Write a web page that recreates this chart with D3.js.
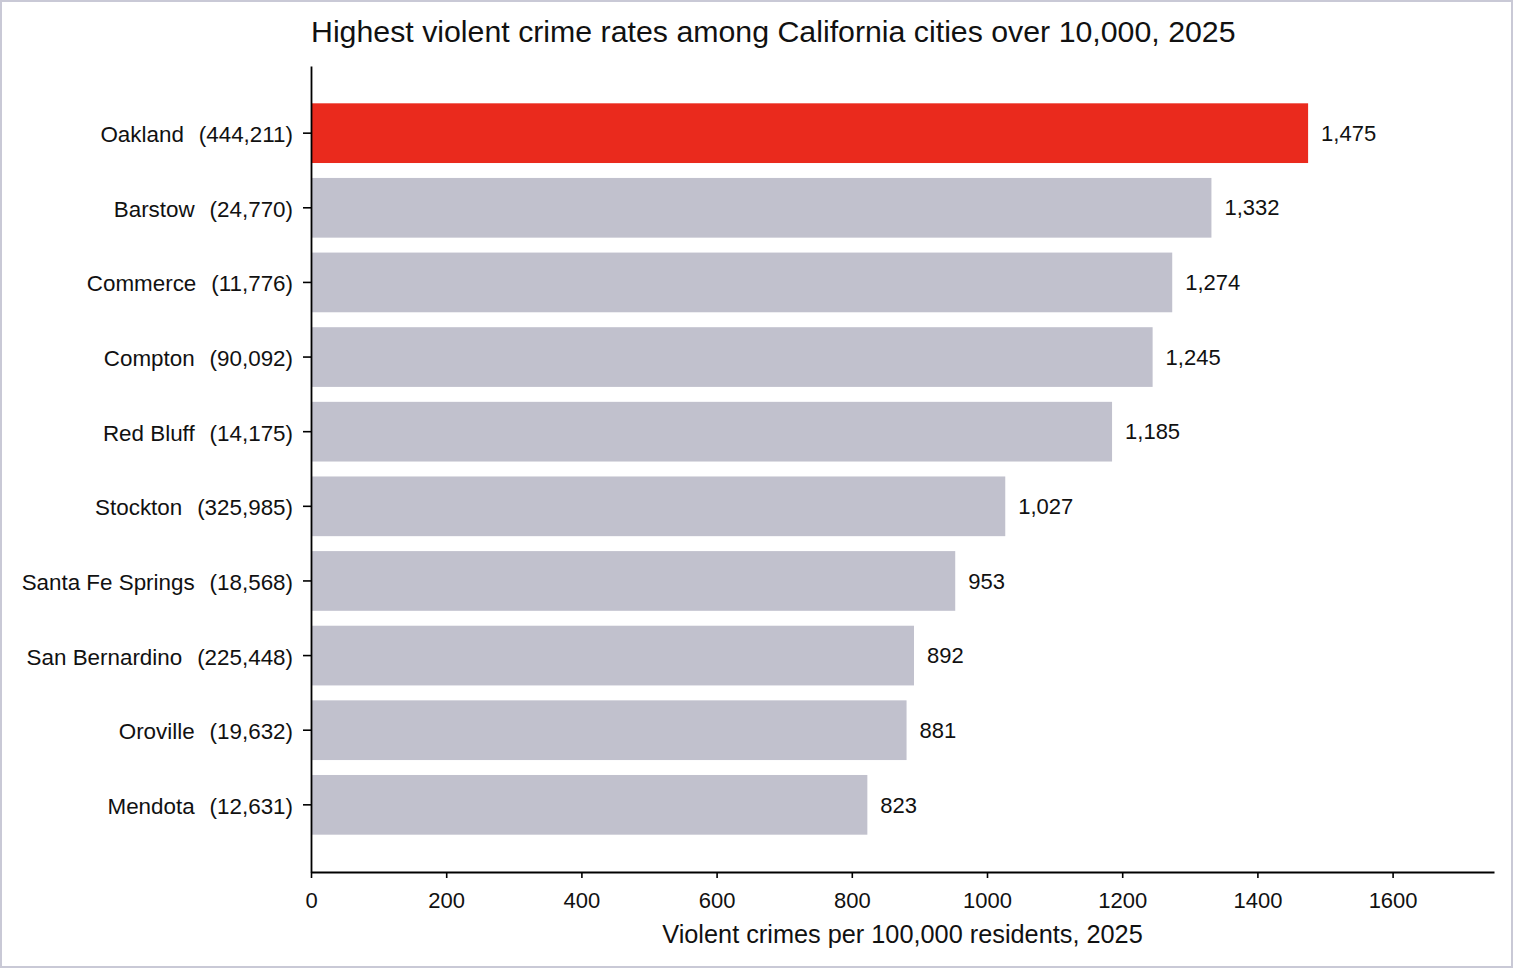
<!DOCTYPE html>
<html>
<head>
<meta charset="utf-8">
<script src="https://cdn.jsdelivr.net/npm/d3@7"></script>
<style>
  body { margin: 0; background: #fff; }
  svg { display: block; font-family: "Liberation Sans", Arial, sans-serif; }
</style>
</head>
<body>
<div id="chart"></div>
<script>
// Data
const cities = ["Oakland", "Barstow", "Commerce", "Compton", "Red Bluff", "Stockton",
                "Santa Fe Springs", "San Bernardino", "Oroville", "Mendota"];
const populations = ["444,211", "24,770", "11,776", "90,092", "14,175", "325,985",
                     "18,568", "225,448", "19,632", "12,631"];
const rates = [1475, 1332, 1274, 1245, 1185, 1027, 953, 892, 881, 823];
const xTicks = [0, 200, 400, 600, 800, 1000, 1200, 1400, 1600];

const W = 1513, H = 968;
const margin = { top: 66, right: 19, bottom: 96, left: 311 },
      width = W - margin.left - margin.right,
      height = H - margin.top - margin.bottom;

const svg = d3.select("#chart").append("svg")
  .attr("width", W)
  .attr("height", H);

// frame around the figure
svg.append("rect")
  .attr("x", 1).attr("y", 1)
  .attr("width", W - 2).attr("height", H - 2)
  .attr("fill", "#fff")
  .attr("stroke", "#c9c9d6")
  .attr("stroke-width", 2);

const g = svg.append("g")
  .attr("transform", `translate(${margin.left},${margin.top})`);

const x = d3.scaleLinear().domain([0, 1750]).range([0, width]);
const y = d3.scaleBand().domain(cities).range([0, height])
  .paddingInner(0.2).paddingOuter(0.5);

// Bars
g.selectAll(".bar")
  .data(rates)
  .enter().append("rect")
  .attr("class", "bar")
  .attr("x", x(0))
  .attr("y", (d, i) => y(cities[i]))
  .attr("width", d => x(d) - x(0))
  .attr("height", y.bandwidth())
  .attr("fill", (d, i) => i === 0 ? "#ea2a1d" : "#c1c1cd");

// Value labels
g.selectAll(".val")
  .data(rates)
  .enter().append("text")
  .attr("class", "val")
  .attr("x", d => x(d) + 13)
  .attr("y", (d, i) => y(cities[i]) + y.bandwidth() / 2)
  .attr("dy", "0.35em")
  .style("font-size", "22px")
  .style("fill", "#111")
  .text(d => d3.format(",")(d));

// Axes
const xAxis = g.append("g")
  .attr("transform", `translate(0,${height})`)
  .call(d3.axisBottom(x).tickValues(xTicks).tickFormat(d3.format("d"))
    .tickSizeInner(6).tickSizeOuter(0).tickPadding(14));

const yAxis = g.append("g")
  .call(d3.axisLeft(y).tickSizeInner(8).tickSizeOuter(0).tickPadding(10));

[xAxis, yAxis].forEach(a => {
  a.select(".domain").attr("stroke", "#000").attr("stroke-width", 1.8);
  a.selectAll(".tick line").attr("stroke", "#000").attr("stroke-width", 1.6);
  a.selectAll(".tick text").style("fill", "#111")
    .style("font-family", "'Liberation Sans', Arial, sans-serif");
});
xAxis.selectAll(".tick text").style("font-size", "22px");

// city name + population in brackets
yAxis.selectAll(".tick text")
  .style("font-size", "22.4px")
  .attr("dy", "0.4em")
  .text(null)
  .each(function (c) {
    const t = d3.select(this);
    t.append("tspan").text(c);
    t.append("tspan").attr("dx", 2.5)
      .text(`\u00a0\u00a0(${populations[cities.indexOf(c)]})`);
  });

// Title
svg.append("text")
  .attr("x", margin.left)
  .attr("y", 42)
  .style("font-size", "30.3px")
  .style("fill", "#111")
  .text("Highest violent crime rates among California cities over 10,000, 2025");

// X axis label
svg.append("text")
  .attr("x", margin.left + width / 2)
  .attr("y", 943)
  .attr("text-anchor", "middle")
  .style("font-size", "25.3px")
  .style("fill", "#111")
  .text("Violent crimes per 100,000 residents, 2025");
</script>
</body>
</html>
